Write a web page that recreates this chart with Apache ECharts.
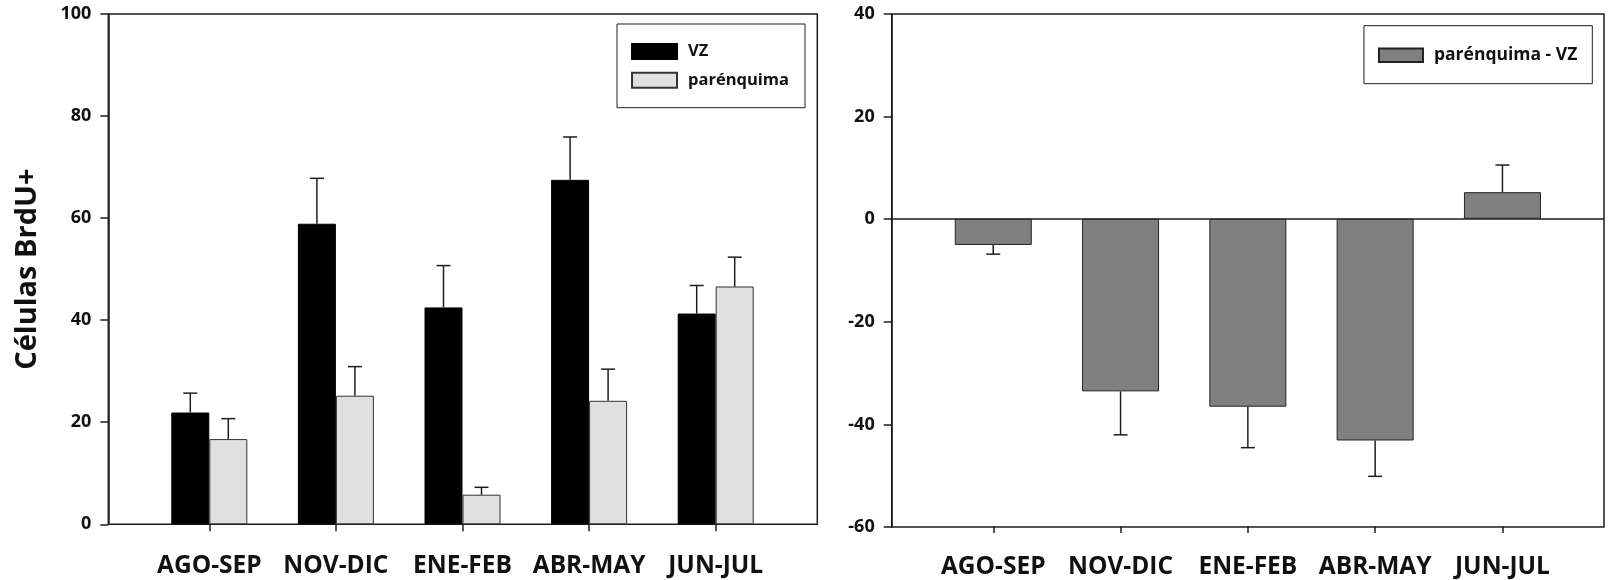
<!DOCTYPE html>
<html>
<head>
<meta charset="utf-8">
<script src="https://cdn.jsdelivr.net/npm/echarts@6/dist/echarts.min.js"></script>
<style>
  html, body { margin: 0; padding: 0; background: #fff; }
  #chart { width: 1608px; height: 580px; }
</style>
</head>
<body>
<div id="chart"></div>
<script>
// Periods sampled
const categories = ['AGO-SEP', 'NOV-DIC', 'ENE-FEB', 'ABR-MAY', 'JUN-JUL'];

// BrdU+ cell counts (mean and SEM)
const vzMean = [21.9, 58.9, 42.5, 67.5, 41.3];
const vzErr = [3.8, 8.9, 8.2, 8.4, 5.5];
const parMean = [16.7, 25.2, 5.8, 24.2, 46.6];
const parErr = [4.0, 5.7, 1.45, 6.2, 5.75];

// Difference parénquima - VZ
const diffMean = [-5.1, -33.7, -36.7, -43.3, 5.2];
const diffErr = [1.8, 8.5, 8.0, 7.0, 5.3];

// Axis ticks
const leftTicks = { min: 0, max: 100, interval: 20 };
const rightTicks = { min: -60, max: 40, interval: 20 };

const FONT = 'Open Sans';
const INK = '#1e1e1e';
const PAIR_BAR_W = 38;
const DIFF_BAR_W = 77;

// one-sided error bar drawn away from the zero line
function errorBars(name, xIdx, yIdx, means, errs, offset) {
  return {
    name: name,
    type: 'custom',
    xAxisIndex: xIdx,
    yAxisIndex: yIdx,
    z: 5,
    silent: true,
    data: means.map((m, i) => [i, m, errs[i]]),
    renderItem: function (params, api) {
      const i = api.value(0), m = api.value(1), e = api.value(2);
      const dir = m >= 0 ? 1 : -1;
      const p0 = api.coord([i, m]);
      const p1 = api.coord([i, m + dir * e]);
      const x = p0[0] + offset;
      const cap = 7;
      const style = { stroke: INK, lineWidth: 1.5 };
      return {
        type: 'group',
        children: [
          { type: 'line', shape: { x1: x, y1: p0[1], x2: x, y2: p1[1] }, style: style },
          { type: 'line', shape: { x1: x - cap, y1: p1[1], x2: x + cap, y2: p1[1] }, style: style }
        ]
      };
    }
  };
}

const yLabel = { fontFamily: FONT, fontWeight: 'bold', fontSize: 18, color: '#111', margin: 17 };
const xLabel = { fontFamily: FONT, fontWeight: 'bold', fontSize: 24.5, color: '#111', margin: 29, interval: 0 };
const axisLine = { show: true, lineStyle: { color: INK, width: 1.5 } };
const catTick = { show: true, alignWithLabel: true, length: 7, lineStyle: { color: INK, width: 1.5 } };

const L = { left: 108.3, top: 14, width: 709, height: 510.3, innerLeft: 146, innerWidth: 633 };
const R = { left: 891.7, top: 14, width: 712.3, height: 513, innerLeft: 929.6, innerWidth: 636.5 };

const option = {
  backgroundColor: '#fff',
  animation: false,
  grid: [
    // left panel frame and bar area
    { left: L.left, top: L.top, width: L.width, height: L.height, show: true, borderColor: INK, borderWidth: 1.5 },
    { left: L.innerLeft, top: L.top, width: L.innerWidth, height: L.height },
    // right panel frame and bar area
    { left: R.left, top: R.top, width: R.width, height: R.height, show: true, borderColor: INK, borderWidth: 1.5 },
    { left: R.innerLeft, top: R.top, width: R.innerWidth, height: R.height }
  ],
  xAxis: [
    { gridIndex: 0, type: 'value', min: 0, max: 1, show: false },
    {
      gridIndex: 1, type: 'category', data: categories, position: 'bottom',
      axisLine: { show: false, onZero: false },
      axisTick: catTick,
      axisLabel: xLabel
    },
    {
      gridIndex: 2, type: 'value', min: 0, max: 1,
      axisLine: { show: true, onZero: true, lineStyle: { color: INK, width: 1.5 } },
      axisTick: { show: false }, axisLabel: { show: false }, splitLine: { show: false }
    },
    {
      gridIndex: 3, type: 'category', data: categories, position: 'bottom',
      axisLine: { show: false, onZero: false },
      axisTick: catTick,
      axisLabel: xLabel
    }
  ],
  yAxis: [
    {
      gridIndex: 0, type: 'value', min: leftTicks.min, max: leftTicks.max, interval: leftTicks.interval,
      name: 'Células BrdU+', nameLocation: 'middle', nameRotate: 90, nameGap: 66,
      nameTextStyle: { fontFamily: FONT, fontWeight: 'bold', fontSize: 29, color: '#111' },
      axisLine: axisLine,
      axisTick: { show: true, length: 8, lineStyle: { color: INK, width: 1.5 } },
      axisLabel: yLabel, splitLine: { show: false }
    },
    { gridIndex: 1, type: 'value', min: leftTicks.min, max: leftTicks.max, show: false },
    {
      gridIndex: 2, type: 'value', min: rightTicks.min, max: rightTicks.max, interval: rightTicks.interval,
      axisLine: axisLine,
      axisTick: { show: true, length: 8, lineStyle: { color: INK, width: 1.5 } },
      axisLabel: yLabel, splitLine: { show: false }
    },
    { gridIndex: 3, type: 'value', min: rightTicks.min, max: rightTicks.max, show: false }
  ],
  legend: [
    {
      data: ['VZ', 'parénquima'],
      orient: 'vertical', right: 803, top: 24,
      backgroundColor: '#fff', borderColor: INK, borderWidth: 1,
      padding: [19, 16, 19, 14], itemGap: 11.7, itemWidth: 45, itemHeight: 15,
      icon: 'rect', selectedMode: false, borderRadius: 0,
      textStyle: { fontFamily: FONT, fontWeight: 'bold', fontSize: 16.5, color: '#111', padding: [0, 0, 0, 6] }
    },
    {
      data: ['parénquima - VZ'],
      orient: 'vertical', right: 15.7, top: 25.7,
      backgroundColor: '#fff', borderColor: INK, borderWidth: 1,
      padding: [20.5, 15, 19.5, 14], itemWidth: 44, itemHeight: 13.4,
      icon: 'rect', selectedMode: false, borderRadius: 0,
      textStyle: { fontFamily: FONT, fontWeight: 'bold', fontSize: 17.5, color: '#111', padding: [0, 0, 0, 6] }
    }
  ],
  series: [
    {
      name: 'VZ', type: 'bar', xAxisIndex: 1, yAxisIndex: 1,
      data: vzMean, barWidth: PAIR_BAR_W, barGap: '0%',
      itemStyle: { color: '#000', borderColor: '#000', borderWidth: 1 }
    },
    {
      name: 'parénquima', type: 'bar', xAxisIndex: 1, yAxisIndex: 1,
      data: parMean, barWidth: PAIR_BAR_W, barGap: '0%',
      itemStyle: { color: '#e0e0e0', borderColor: '#333', borderWidth: 1 }
    },
    errorBars('VZ SEM', 1, 1, vzMean, vzErr, -PAIR_BAR_W / 2),
    errorBars('parénquima SEM', 1, 1, parMean, parErr, PAIR_BAR_W / 2),
    {
      name: 'parénquima - VZ', type: 'bar', xAxisIndex: 3, yAxisIndex: 3,
      data: diffMean, barWidth: DIFF_BAR_W,
      itemStyle: { color: '#808080', borderColor: '#222', borderWidth: 1 }
    },
    errorBars('parénquima - VZ SEM', 3, 3, diffMean, diffErr, 0)
  ]
};

const chart = echarts.init(document.getElementById('chart'), null, { renderer: 'canvas' });
chart.setOption(option);
</script>
</body>
</html>
